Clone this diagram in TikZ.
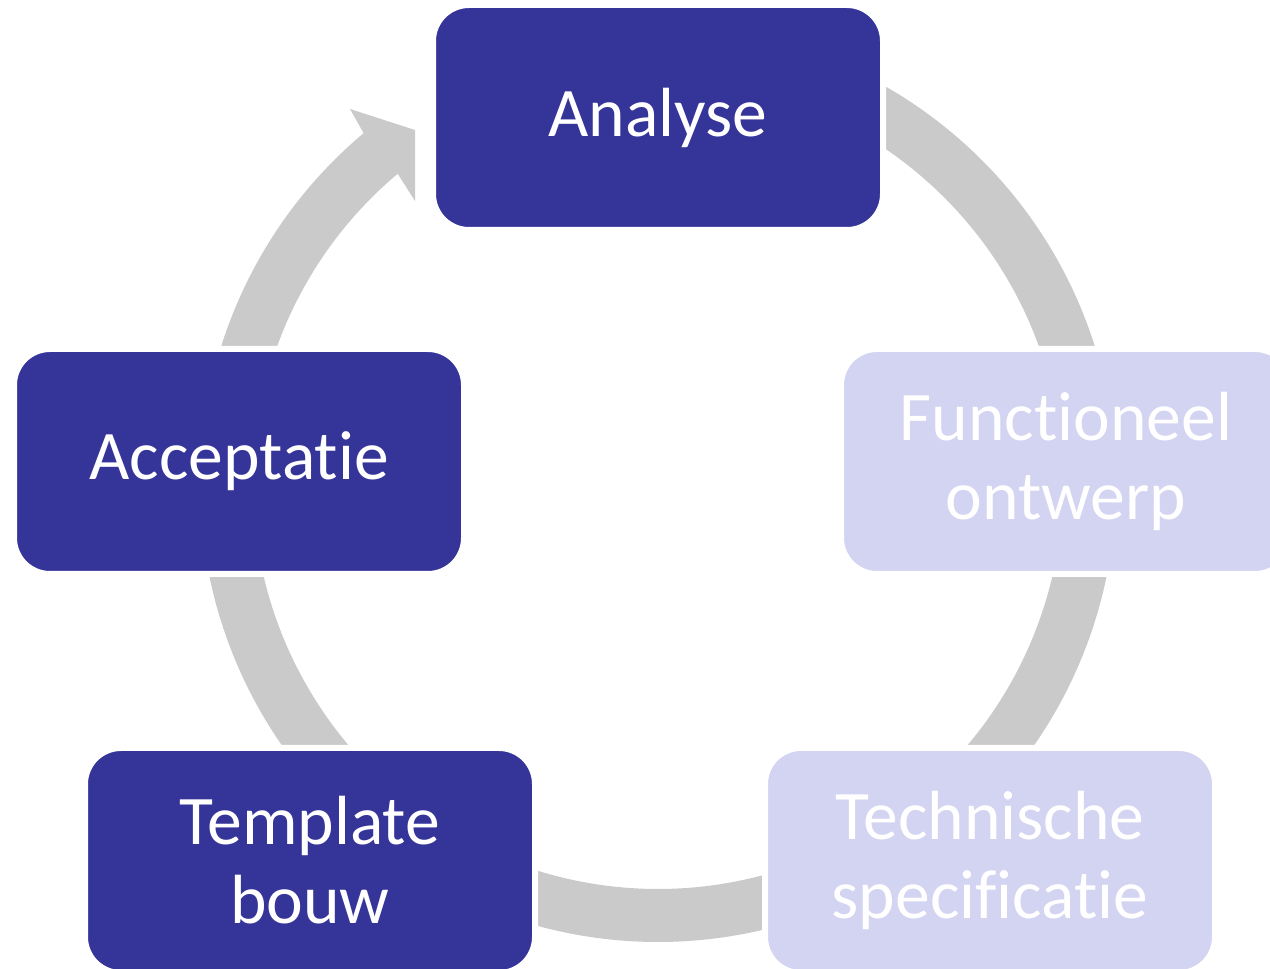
\documentclass[tikz,border=0pt]{standalone}
\usepackage{fontspec}
\setmainfont{Carlito}[Ligatures={NoCommon,NoRare}]
\definecolor{cycdark}{RGB}{53,52,153}
\definecolor{cyclight}{RGB}{211,211,242}
\definecolor{cycgray}{RGB}{202,202,202}
\tikzset{
  phase/.style={rounded corners=36pt,minimum width=450pt,minimum height=225pt,
    draw=white,line width=6pt,text=white,align=center,inner sep=0pt,
    font=\fontsize{69.6pt}{79pt}\selectfont},
  ring/.style={draw=cycgray,line width=53pt},
}
\begin{document}
\begin{tikzpicture}[x=1pt,y=1pt]
\clip (0,0) rectangle (1270,969);
\coordinate (ctr) at (658,485);
\draw[ring] ([shift={(70:431.5)}]ctr) arc[start angle=70,end angle=10,radius=431.5pt];
\draw[ring] ([shift={(-5:431.5)}]ctr) arc[start angle=-5,end angle=-50,radius=431.5pt];
\draw[ring] ([shift={(-60:431.5)}]ctr) arc[start angle=-60,end angle=-120,radius=431.5pt];
\draw[ring] ([shift={(-130:431.5)}]ctr) arc[start angle=-130,end angle=-175,radius=431.5pt];
\draw[ring] ([shift={(170:431.5)}]ctr) arc[start angle=170,end angle=129.5,radius=431.5pt];
\fill[cycgray] ([shift={(130:458)}]ctr) -- (350,860) -- (415,839) -- (415,768) -- ([shift={(130:405)}]ctr) -- cycle;
\node[phase,fill=cycdark] (ana) at (658,851.5) {Analyse};
\node[phase,fill=cyclight] (fun) at (1066,507.5) {Functioneel\\ontwerp};
\node[phase,fill=cyclight] (tec) at (990,108.5) {Technische\\specificatie};
\node[phase,fill=cycdark] (tem) at (310,108.5) {Template\\bouw};
\node[phase,fill=cycdark] (acc) at (239,507.5) {Acceptatie};
\end{tikzpicture}
\end{document}
